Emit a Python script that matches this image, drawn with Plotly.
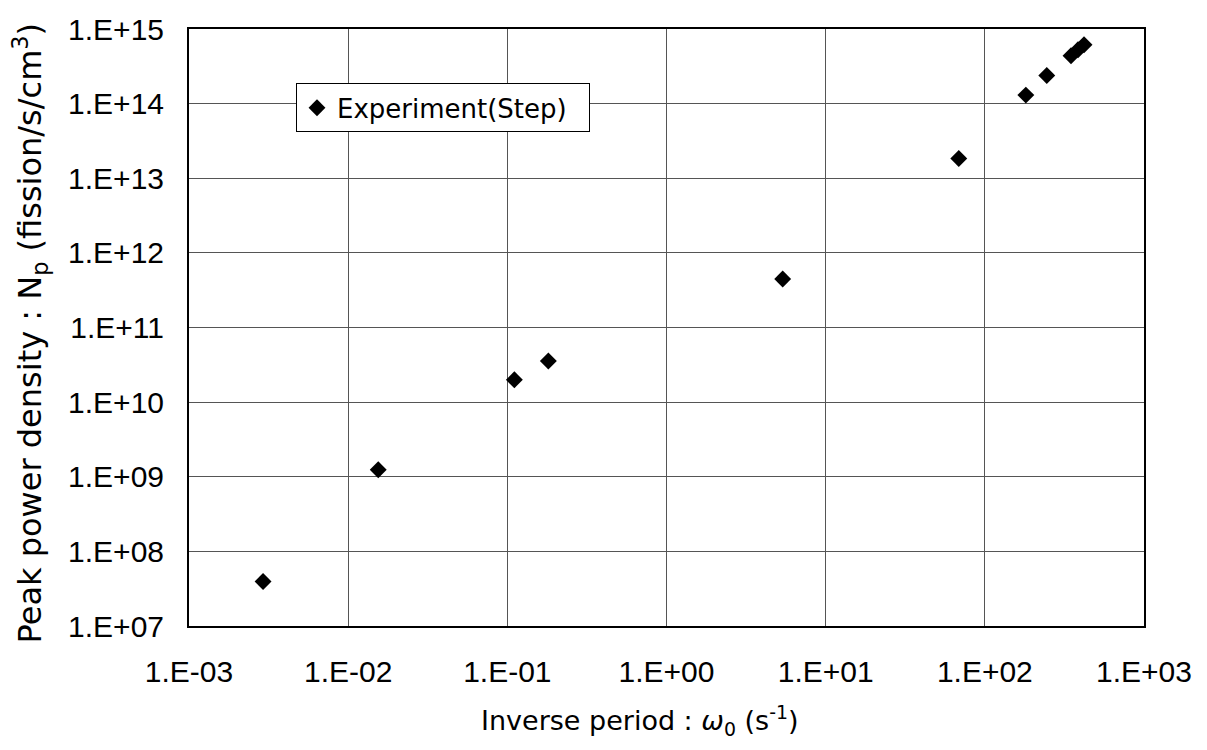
import plotly.graph_objects as go

# Inverse period omega_0 (1/s) and peak power density N_p (fission/s/cm^3)
omega0 = [2.92e-3, 0.01545, 0.1107, 0.181, 5.37, 68.6, 181, 245, 348, 385, 420]
peak_density = [3.94e7, 1.24e9, 1.99e10, 3.55e10, 4.46e11, 1.84e13,
                1.30e14, 2.38e14, 4.38e14, 5.27e14, 6.14e14]

x_tick_vals = [1e-3, 1e-2, 1e-1, 1e0, 1e1, 1e2, 1e3]
x_tick_text = ["1.E-03", "1.E-02", "1.E-01", "1.E+00", "1.E+01", "1.E+02", "1.E+03"]
y_tick_vals = [1e7, 1e8, 1e9, 1e10, 1e11, 1e12, 1e13, 1e14, 1e15]
y_tick_text = ["1.E+07", "1.E+08", "1.E+09", "1.E+10", "1.E+11",
               "1.E+12", "1.E+13", "1.E+14", "1.E+15"]

TICK_FONT = "Liberation Sans, Arial, sans-serif"
TEXT_FONT = "DejaVu Sans, sans-serif"

fig = go.Figure()
fig.add_trace(go.Scatter(
    x=omega0, y=peak_density, mode="markers",
    name="Experiment(Step)&nbsp;&nbsp;",
    marker=dict(symbol="diamond", size=13, color="black"),
))

W, H = 1207, 750
L, R, T, B = 189, 63, 22, 124
pw, ph = W - L - R, H - T - B

def px_x(p):
    return (p - L) / pw

def px_y(p):
    return (H - B - p) / ph

fig.update_layout(
    width=W, height=H,
    margin=dict(l=L, r=R, t=T, b=B),
    paper_bgcolor="white", plot_bgcolor="white",
    font=dict(family=TICK_FONT, size=30, color="black"),
    showlegend=True,
    legend=dict(
        x=px_x(296), y=px_y(77), xanchor="left", yanchor="top",
        bgcolor="white", bordercolor="black", borderwidth=1,
        font=dict(family=TEXT_FONT, size=26, color="black"),
        itemwidth=30,
    ),
    xaxis=dict(
        type="log", range=[-3, 3],
        tickvals=x_tick_vals, ticktext=x_tick_text,
        ticks="outside", ticklen=18, tickcolor="rgba(0,0,0,0)",
        showgrid=True, gridcolor="#555", gridwidth=1,
        showline=True, linecolor="black", linewidth=2, mirror=True,
        zeroline=False,
        tickfont=dict(family=TICK_FONT, size=30, color="black"),
    ),
    yaxis=dict(
        type="log", range=[7, 15],
        tickvals=y_tick_vals, ticktext=y_tick_text,
        ticks="outside", ticklen=17, tickcolor="rgba(0,0,0,0)",
        showgrid=True, gridcolor="#555", gridwidth=1,
        showline=True, linecolor="black", linewidth=2, mirror=True,
        zeroline=False,
        tickfont=dict(family=TICK_FONT, size=30, color="black"),
    ),
)

fig.add_annotation(
    text="Inverse period : <i>ω</i><sub>0</sub> (s<sup>-1</sup>)",
    xref="paper", yref="paper", x=px_x(640), y=px_y(722),
    xanchor="center", yanchor="middle", showarrow=False,
    font=dict(family=TEXT_FONT, size=27, color="black"),
)
fig.add_annotation(
    text="Peak power density : N<sub>p</sub> (fission/s/cm<sup>3</sup>)",
    xref="paper", yref="paper", x=px_x(30), y=px_y(330),
    xanchor="center", yanchor="middle", textangle=-90, showarrow=False,
    font=dict(family=TEXT_FONT, size=32, color="black"),
)

fig.write_html("out.html")
